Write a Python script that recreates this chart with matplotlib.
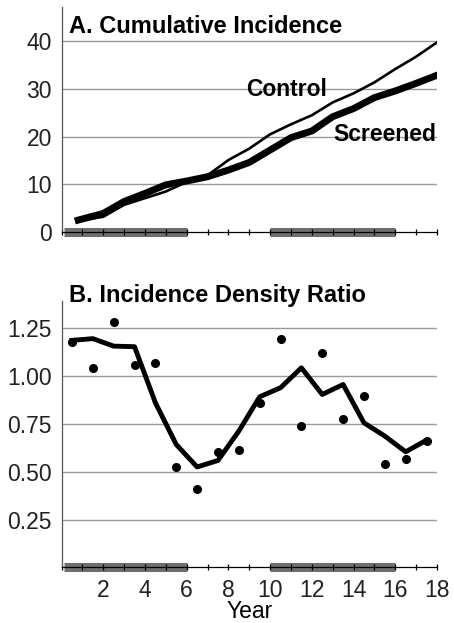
import matplotlib
matplotlib.use("Agg")
import matplotlib.pyplot as plt
import numpy as np

plt.rcParams['font.family'] = ['Liberation Sans', 'DejaVu Sans']

# A. cumulative incidence (per year)
cum_years = [0.8, 2, 3, 4, 5, 6, 7, 8, 9, 10, 11, 12, 13, 14, 15, 16, 17, 18]
screened = [2.5, 3.9, 6.4, 8.1, 9.9, 10.7, 11.6, 13.0, 14.6, 17.2, 19.8, 21.2,
            24.2, 25.9, 28.2, 29.6, 31.2, 32.9]
control = [2.3, 3.2, 5.7, 7.1, 8.5, 10.5, 11.9, 15.1, 17.5, 20.5, 22.6, 24.5,
           27.2, 29.1, 31.4, 34.2, 36.8, 39.8]

# B. incidence density ratio
idr_years = [0.5, 1.5, 2.5, 3.5, 4.5, 5.5, 6.5, 7.5, 8.5, 9.5, 10.5, 11.5,
             12.5, 13.5, 14.5, 15.5, 16.5, 17.5]
idr_points = [1.175, 1.038, 1.279, 1.057, 1.067, 0.523, 0.411, 0.601, 0.615,
              0.860, 1.193, 0.737, 1.120, 0.775, 0.893, 0.542, 0.563, 0.658]
idr_smooth = [1.184, 1.193, 1.154, 1.151, 0.859, 0.641, 0.524, 0.558, 0.711,
              0.890, 0.937, 1.041, 0.902, 0.954, 0.754, 0.685, 0.603, 0.664]

screen_periods = [(0.1, 6), (10, 16)]

fig = plt.figure(figsize=(4.54, 6.23), dpi=100)
axA = fig.add_axes([0.1355, 0.6276, 0.827, 0.361])
axB = fig.add_axes([0.1355, 0.0891, 0.827, 0.428])

grid_col = '#9a9a9a'
band_col = '#6f6f6f'
fs = 16.5


def style(ax, ymax, yticks, ylabels, xlabels):
    ax.set_xlim(0, 18)
    ax.set_ylim(0, ymax)
    for s in ['top', 'right']:
        ax.spines[s].set_visible(False)
    ax.spines['left'].set_color('#555555')
    ax.spines['left'].set_linewidth(0.9)
    ax.spines['bottom'].set_color('black')
    ax.spines['bottom'].set_linewidth(0.9)
    ax.set_yticks(yticks)
    ax.set_yticklabels(ylabels, fontsize=fs, color='#222222')
    ax.tick_params(axis='y', length=0, pad=7)
    ax.set_xticks(range(0, 19))
    ax.set_xticklabels(xlabels, fontsize=fs, color='#222222')
    ax.tick_params(axis='x', direction='inout', length=5, width=0.9, pad=6)
    for v in yticks:
        if v > 0:
            ax.axhline(v, color=grid_col, lw=1.0, zorder=0.5)
    for a, b in screen_periods:
        ax.hlines(0, a, b, colors=band_col, lw=6.5, zorder=1, clip_on=False)


# panel A
style(axA, 47.2, [0, 10, 20, 30, 40], ['0', '10', '20', '30', '40'],
      [''] * 19)
axA.plot(cum_years, control, color='black', lw=1.9, zorder=3,
         solid_joinstyle='round')
axA.plot(cum_years, screened, color='black', lw=5, zorder=3,
         solid_joinstyle='round')
axA.text(0.02, 0.915, 'A. Cumulative Incidence', transform=axA.transAxes,
         fontsize=17, fontweight='bold', ha='left', va='center')
axA.text(10.8, 30.0, 'Control', fontsize=16.5, fontweight='bold',
         ha='center', va='center')
axA.text(15.5, 20.5, 'Screened', fontsize=16.5, fontweight='bold',
         ha='center', va='center')

# panel B
xl = [''] * 19
for i in range(2, 19, 2):
    xl[i] = str(i)
style(axB, 1.39, [0.25, 0.5, 0.75, 1.0, 1.25],
      ['0.25', '0.50', '0.75', '1.00', '1.25'], xl)
axB.plot(idr_years, idr_smooth, color='black', lw=3.5, zorder=3,
         solid_joinstyle='round')
axB.plot(idr_years, idr_points, 'o', color='black', ms=5.5, zorder=4,
         clip_on=False)
axB.text(0.02, 1.02, 'B. Incidence Density Ratio', transform=axB.transAxes,
         fontsize=17, fontweight='bold', ha='left', va='center')
axB.set_xlabel('Year', fontsize=fs, labelpad=-2)

plt.savefig('out.png', dpi=100)
